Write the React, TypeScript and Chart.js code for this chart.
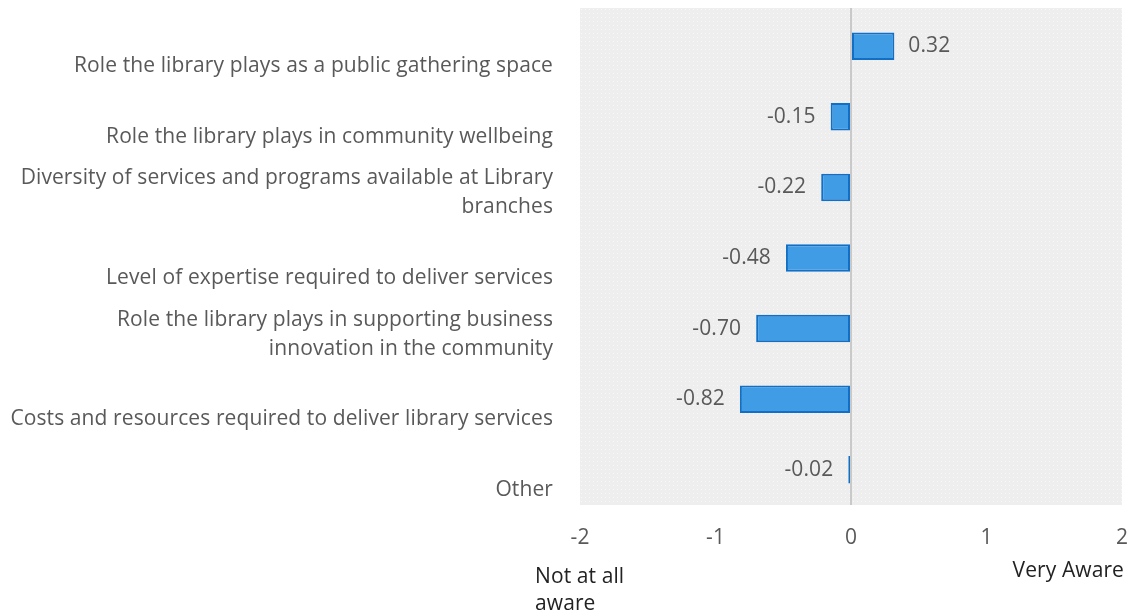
import React, { useEffect, useRef } from 'react';
import { Chart, registerables } from 'chart.js';
Chart.register(...registerables);

const categoryLines: string[][] = [
  ['Role the library plays as a public gathering space'],
  ['Role the library plays in community wellbeing'],
  ['Diversity of services and programs available at Library', 'branches'],
  ['Level of expertise required to deliver services'],
  ['Role the library plays in supporting business', 'innovation in the community'],
  ['Costs and resources required to deliver library services'],
  ['Other'],
];
const values = [0.32, -0.15, -0.22, -0.48, -0.7, -0.82, -0.02];
const xTicks = [-2, -1, 0, 1, 2];
const leftEndLabel = ['Not at all', 'aware'];
const rightEndLabel = 'Very Aware';

const FONT = '"Open Sans", "Noto Sans", sans-serif';

export default function App() {
  const ref = useRef<HTMLCanvasElement | null>(null);
  useEffect(() => {
    const canvas = ref.current;
    if (!canvas) return;

    const pc = document.createElement('canvas');
    pc.width = 4;
    pc.height = 4;
    const pctx = pc.getContext('2d')!;
    pctx.fillStyle = '#eeeeee';
    pctx.fillRect(0, 0, 4, 4);
    pctx.fillStyle = '#f8f8f8';
    pctx.fillRect(1, 1, 1, 1);

    const bgPlugin = {
      id: 'bg',
      beforeDraw(chart: any) {
        const { ctx, chartArea } = chart;
        ctx.save();
        const pat = ctx.createPattern(pc, 'repeat');
        ctx.fillStyle = pat || '#eeeeee';
        const top = chartArea.top - 3;
        ctx.fillRect(chartArea.left, top, chartArea.right - chartArea.left, chartArea.bottom - top);
        const x0 = chart.scales.x.getPixelForValue(0);
        ctx.strokeStyle = '#c9c9c9';
        ctx.lineWidth = 2;
        ctx.beginPath();
        ctx.moveTo(x0, top);
        ctx.lineTo(x0, chartArea.top);
        ctx.stroke();
        ctx.restore();
      },
    };

    const textPlugin = {
      id: 'texts',
      afterDraw(chart: any) {
        const { ctx, chartArea } = chart;
        const yScale = chart.scales.y;
        const xScale = chart.scales.x;
        const meta = chart.getDatasetMeta(0);
        ctx.save();
        ctx.font = `21px ${FONT}`;
        try { (ctx as any).letterSpacing = '0.1px'; } catch (e) {}
        ctx.textBaseline = 'middle';
        // category labels, bottom aligned in band
        ctx.fillStyle = '#595959';
        ctx.textAlign = 'right';
        categoryLines.forEach((lines, i) => {
          const yc = yScale.getPixelForValue(i);
          const n = lines.length;
          lines.forEach((line, j) => {
            ctx.fillText(line, chartArea.left - 27, yc + 20 - (n - 1 - j) * 29);
          });
        });
        // value labels
        meta.data.forEach((bar: any, i: number) => {
          const v = values[i];
          const txt = v.toFixed(2);
          if (v >= 0) {
            ctx.textAlign = 'left';
            ctx.fillText(txt, bar.x + 14, bar.y);
          } else {
            ctx.textAlign = 'right';
            ctx.fillText(txt, bar.x - 15, bar.y);
          }
        });
        // x tick labels
        ctx.textAlign = 'center';
        xTicks.forEach((t) => {
          ctx.fillText(String(t), xScale.getPixelForValue(t), chartArea.bottom + 33);
        });
        // end labels
        ctx.fillStyle = '#222222';
        ctx.textAlign = 'left';
        leftEndLabel.forEach((line, j) => {
          ctx.fillText(line, chartArea.left - 45, 577 + j * 27);
        });
        ctx.textAlign = 'right';
        ctx.fillText(rightEndLabel, chartArea.right + 2, 571);
        ctx.restore();
      },
    };

    const chart = new Chart(canvas, {
      type: 'bar',
      data: {
        labels: categoryLines.map((l) => l.join(' ')),
        datasets: [
          {
            data: values,
            backgroundColor: '#419ce6',
            borderColor: '#1170c6',
            borderWidth: 2,
            borderSkipped: false,
            barPercentage: 0.39,
            categoryPercentage: 1,
          },
        ],
      },
      options: {
        indexAxis: 'y',
        animation: false,
        responsive: false,
        maintainAspectRatio: false,
        layout: { padding: { top: 11, right: 12, left: 0, bottom: 0 } },
        plugins: { legend: { display: false }, tooltip: { enabled: false } },
        scales: {
          x: {
            min: xTicks[0],
            max: xTicks[xTicks.length - 1],
            border: { display: false },
            grid: {
              drawTicks: false,
              color: (c: any) => (c.tick && c.tick.value === 0 ? '#c9c9c9' : 'transparent'),
              lineWidth: 2,
            },
            ticks: { stepSize: 1, display: false },
            afterFit: (s: any) => {
              s.height = 111;
            },
          },
          y: {
            border: { display: false },
            grid: { display: false, drawTicks: false },
            ticks: { display: false },
            afterFit: (s: any) => {
              s.width = 580;
            },
          },
        },
      },
      plugins: [bgPlugin, textPlugin],
    });
    return () => chart.destroy();
  }, []);
  return (
    <div style={{ position: 'absolute', left: 0, top: 0, width: 1134, height: 616, background: '#fff' }}>
      <canvas ref={ref} width={1134} height={616} style={{ width: 1134, height: 616 }} />
    </div>
  );
}
